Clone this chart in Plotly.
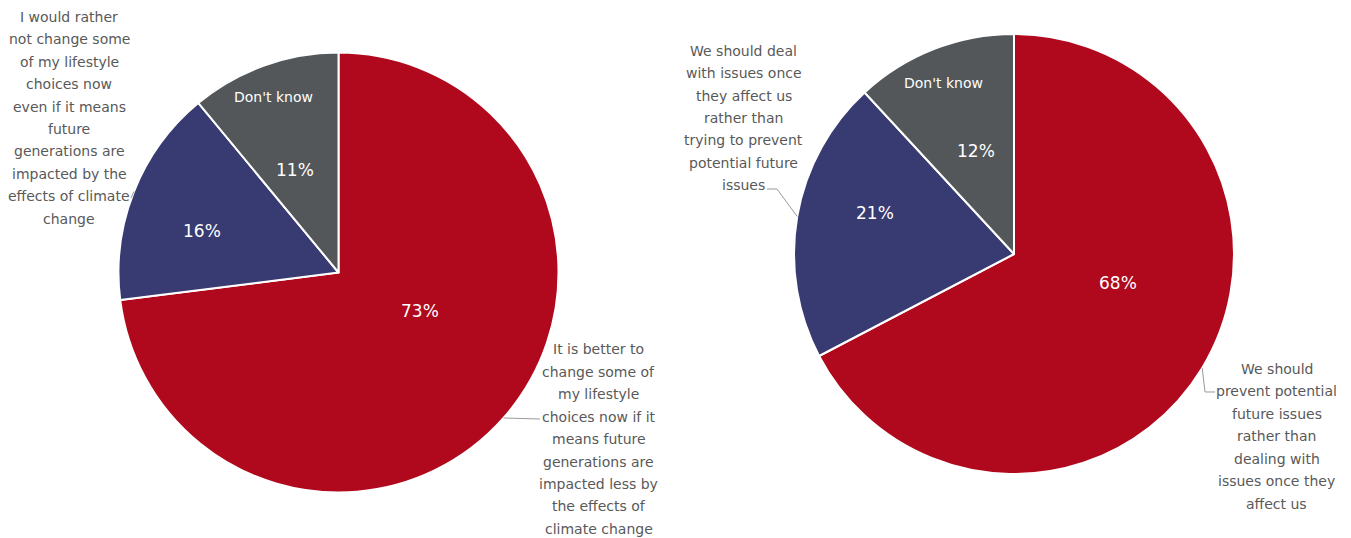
import math
import plotly.graph_objects as go

# ---- data ----
left_labels = [
    "It is better to change some of my lifestyle choices now if it means future generations are impacted less by the effects of climate change",
    "I would rather not change some of my lifestyle choices now even if it means future generations are impacted by the effects of climate change",
    "Don't know",
]
left_values = [73, 16, 11]

right_labels = [
    "We should prevent potential future issues rather than dealing with issues once they affect us",
    "We should deal with issues once they affect us rather than trying to prevent potential future issues",
    "Don't know",
]
right_values = [68, 21, 12]

# wrapped lines of the outside category labels
left_wrapped = [
    ["It is better to", "change some of", "my lifestyle", "choices now if it", "means future",
     "generations are", "impacted less by", "the effects of", "climate change"],
    ["I would rather", "not change some", "of my lifestyle", "choices now", "even if it means",
     "future", "generations are", "impacted by the", "effects of climate", "change"],
]
right_wrapped = [
    ["We should", "prevent potential", "future issues", "rather than", "dealing with",
     "issues once they", "affect us"],
    ["We should deal", "with issues once", "they affect us", "rather than",
     "trying to prevent", "potential future", "issues"],
]

colors = ["#B0081C", "#383A72", "#53575A"]

# ---- layout geometry (pixels) ----
W, H = 1351, 538
R = 220
FONT = "DejaVu Sans"
LABEL_COLOR = "#595959"
LINE_H = 22.45


def px(x):
    return x / W


def py(y):
    return 1 - y / H


def mid_angles(values):
    total = sum(values)
    out, acc = [], 0.0
    for v in values:
        out.append((acc + v / 2) / total * 360)
        acc += v
    return out


def polar(cx, cy, ang, r):
    a = math.radians(ang)
    return cx + r * math.sin(a), cy - r * math.cos(a)


pies = [
    dict(cx=338.5, cy=272.5, labels=left_labels, values=left_values, wrapped=left_wrapped,
         # inside label placement: (radius fraction, angle shift) per slice
         pct_pos=[(0.41, -16.3), (0.651, -4.6), (0.507, -2.9)],
         dk_pos=(0.849, -0.6),
         # outside label blocks: centre x, first line y, connector points after the rim
         blocks=[dict(x=598.5, y=349.3, path=[(540, 419)]),
                 dict(x=69, y=16.7, path=[(131, 198)])]),
    dict(cx=1014, cy=254, labels=right_labels, values=right_values, wrapped=right_wrapped,
         pct_pos=[(0.491, -15.6), (0.66, 6.7), (0.499, 1.2)],
         dk_pos=(0.84, -0.9),
         blocks=[dict(x=1276.5, y=369, path=[(1205, 392), (1215, 392)]),
                 dict(x=743.5, y=50.7, path=[(777, 189), (767, 189)])]),
]

fig = go.Figure()
annotations = []
shapes = []

for p in pies:
    cx, cy = p["cx"], p["cy"]
    fig.add_trace(go.Pie(
        labels=p["labels"], values=p["values"], sort=False,
        direction="clockwise", rotation=0,
        marker=dict(colors=colors, line=dict(color="white", width=2)),
        textinfo="none", hoverinfo="skip", showlegend=False,
        domain=dict(x=[px(cx - R), px(cx + R)], y=[py(cy + R), py(cy - R)]),
    ))
    mids = mid_angles(p["values"])

    # percentage labels inside slices
    for v, m, (rf, da) in zip(p["values"], mids, p["pct_pos"]):
        x, y = polar(cx, cy, m + da, rf * R)
        annotations.append(dict(x=px(x), y=py(y), xref="paper", yref="paper",
                                text=f"{v}%", showarrow=False,
                                font=dict(family=FONT, size=17, color="white"),
                                xanchor="center", yanchor="middle"))
    # "Don't know" category name inside the grey slice
    rf, da = p["dk_pos"]
    x, y = polar(cx, cy, mids[2] + da, rf * R)
    annotations.append(dict(x=px(x), y=py(y), xref="paper", yref="paper",
                            text=p["labels"][2], showarrow=False,
                            font=dict(family=FONT, size=14, color="white"),
                            xanchor="center", yanchor="middle"))

    # outside category labels with connectors
    for i, blk in enumerate(p["blocks"]):
        for k, line in enumerate(p["wrapped"][i]):
            annotations.append(dict(x=px(blk["x"]), y=py(blk["y"] + k * LINE_H),
                                    xref="paper", yref="paper", text=line,
                                    showarrow=False,
                                    font=dict(family=FONT, size=14, color=LABEL_COLOR),
                                    xanchor="center", yanchor="middle"))
        ex, ey = polar(cx, cy, mids[i], R)
        pts = [(ex, ey)] + blk["path"]
        d = "M " + " L ".join(f"{px(a):.5f},{py(b):.5f}" for a, b in pts)
        shapes.append(dict(type="path", path=d, xref="paper", yref="paper",
                           line=dict(color="#9a9a9a", width=1)))

fig.update_layout(
    width=W, height=H,
    margin=dict(l=0, r=0, t=0, b=0),
    paper_bgcolor="white", plot_bgcolor="white",
    annotations=annotations, shapes=shapes,
    showlegend=False,
)

fig.write_html("out.html")
